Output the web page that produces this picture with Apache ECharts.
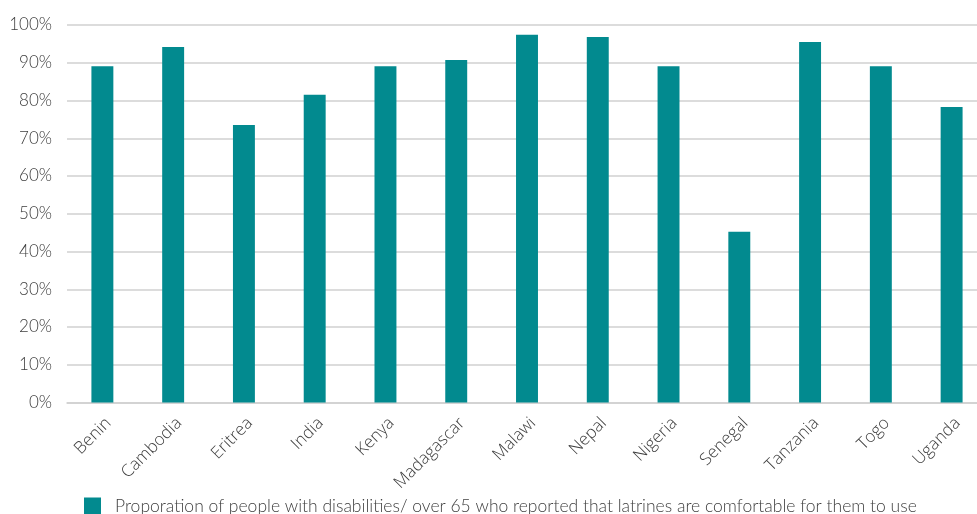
<!DOCTYPE html>
<html>
<head>
<meta charset="utf-8">
<script src="https://cdn.jsdelivr.net/npm/echarts@6/dist/echarts.min.js"></script>
<style>
  html, body { margin: 0; padding: 0; background: #fff; }
  #chart { width: 977px; height: 514px; }
</style>
</head>
<body>
<div id="chart"></div>
<script>
// Countries along the x axis
const countries = ['Benin', 'Cambodia', 'Eritrea', 'India', 'Kenya', 'Madagascar', 'Malawi',
  'Nepal', 'Nigeria', 'Senegal', 'Tanzania', 'Togo', 'Uganda'];

// Share (%) of people with disabilities / over 65 who find latrines comfortable
const comfortableShare = [89.1, 94.2, 73.5, 81.5, 89.1, 90.7, 97.4, 96.8, 89.1, 45.2, 95.5, 89.1, 78.3];

const seriesName = 'Proporation of people with disabilities/ over 65 who reported that latrines are comfortable for them to use';

// Percentage tick range
const yMin = 0, yMax = 100, yStep = 10;

const chart = echarts.init(document.getElementById('chart'), null, { renderer: 'canvas' });

chart.setOption({
  animation: false,
  backgroundColor: '#ffffff',
  grid: { left: 67, top: 25, width: 920, height: 377.5, containLabel: false, outerBoundsMode: 'none' },
  legend: {
    show: true,
    left: 79,
    top: 492,
    itemWidth: 17,
    itemHeight: 17,
    itemGap: 10,
    icon: 'rect',
    textStyle: {
      fontFamily: 'Lato', fontWeight: 300, fontSize: 17.5, color: '#404040',
      padding: [0, 0, 0, 9]
    },
    data: [seriesName]
  },
  xAxis: {
    type: 'category',
    data: countries,
    axisLine: { show: true, lineStyle: { color: '#d0d0d0', width: 1.5 } },
    axisTick: { show: false },
    axisLabel: {
      interval: 0,
      rotate: 45,
      margin: 12,
      verticalAlign: 'top',
      fontFamily: 'Open Sans',
      fontWeight: 300,
      fontSize: 17,
      color: '#404040'
    }
  },
  yAxis: {
    type: 'value',
    min: yMin,
    max: yMax,
    interval: yStep,
    axisLine: { show: false },
    axisTick: { show: false },
    splitLine: { show: true, lineStyle: { color: '#d0d0d0', width: 1.5 } },
    axisLabel: {
      margin: 15,
      fontFamily: 'Lato',
      fontWeight: 300,
      fontSize: 17,
      color: '#404040',
      formatter: v => v + '%'
    }
  },
  series: [{
    name: seriesName,
    type: 'bar',
    data: comfortableShare,
    barWidth: '31%',
    itemStyle: { color: '#028a8f' }
  }]
});
</script>
</body>
</html>
